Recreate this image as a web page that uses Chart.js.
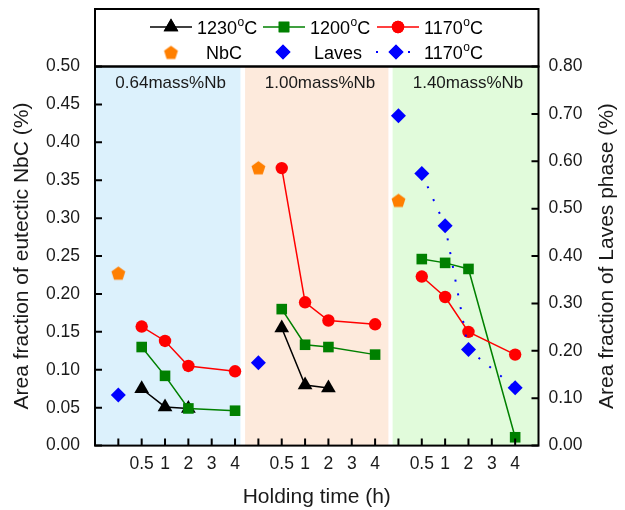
<!DOCTYPE html>
<html>
<head>
<meta charset="utf-8">
<script src="https://cdn.jsdelivr.net/npm/chart.js@4.4.0/dist/chart.umd.min.js"></script>
<style>
  html, body { margin: 0; padding: 0; background: #fff; }
  #wrap { width: 625px; height: 510px; }
</style>
</head>
<body>
<div id="wrap"><canvas id="chart" width="625" height="510"></canvas></div>
<script>
// values
const panelNames = ['0.64mass%Nb', '1.00mass%Nb', '1.40mass%Nb'];
const timeLabels = ['', '0.5', '1', '2', '3', '4'];   // first slot = as-cast, no label

// eutectic NbC, left axis (%)
const nbcAsCast = [0.228, 0.367, 0.324];
// Laves phase, right axis (%)
const lavesAsCast = [0.107, 0.175, 0.696];

// after holding 0.5, 1, 2, 3, 4 h  (one row per alloy)
const nbc1230 = [
  [0.075, 0.051, 0.049, null, null],
  [0.155, 0.080, 0.076, null, null],
  [null, null, null, null, null]
];
const nbc1200 = [
  [0.130, 0.092, 0.049, null, 0.046],
  [0.180, 0.133, 0.130, null, 0.120],
  [0.246, 0.241, 0.233, null, 0.011]
];
const nbc1170 = [
  [0.157, 0.138, 0.105, null, 0.098],
  [0.366, 0.189, 0.165, null, 0.160],
  [0.223, 0.196, 0.150, null, 0.120]
];
const laves1170 = [
  [null, null, null, null, null],
  [null, null, null, null, null],
  [0.574, 0.464, 0.203, null, 0.122]
];

const yTicks = [0, 0.05, 0.1, 0.15, 0.2, 0.25, 0.3, 0.35, 0.4, 0.45, 0.5];
const y2Ticks = [0, 0.1, 0.2, 0.3, 0.4, 0.5, 0.6, 0.7, 0.8];

// styling
const FONT = '"Liberation Sans", Arial, sans-serif';
const colors = {
  c1230: '#000000',
  c1200: '#008000',
  c1170: '#ff0000',
  nbc: '#ff7f00',
  laves: '#0000ff',
  text: '#1a1a1a'
};
const panelBg = ['#dcf1fc', '#fdeadc', '#e1fbdb'];
const panelBands = [[0, 6.23], [6.43, 12.57], [12.75, 19]];
const panelLabelX = [3.24, 9.64, 15.98];

const SLOTS = timeLabels.length;
const slotOf = (p, i) => p * SLOTS + 1 + i;
const allSlots = [];
panelNames.forEach((_, p) => timeLabels.forEach((_, i) => allSlots.push(slotOf(p, i))));

function holdPoints(rows, p) {
  return rows[p].map((v, i) => ({ x: slotOf(p, i + 1), y: v })).filter(d => d.y !== null);
}

function makePentagon(color, r) {
  const c = document.createElement('canvas');
  const s = Math.ceil(r * 2 + 2);
  c.width = s; c.height = s;
  const g = c.getContext('2d');
  g.fillStyle = color;
  g.beginPath();
  for (let k = 0; k < 5; k++) {
    const a = -Math.PI / 2 + k * 2 * Math.PI / 5;
    g.lineTo(s / 2 + r * Math.cos(a), s / 2 + 1 + r * Math.sin(a));
  }
  g.closePath();
  g.fill();
  return c;
}
const pentagon = makePentagon(colors.nbc, 7.3);

function pointSet(data, color, style, radius, axis) {
  return {
    data, yAxisID: axis || 'y',
    showLine: false,
    pointStyle: style, pointRadius: radius, pointHoverRadius: radius,
    pointBackgroundColor: color, pointBorderColor: color, pointBorderWidth: 0,
    clip: false
  };
}
function lineSet(data, color, style, radius) {
  return {
    data, yAxisID: 'y',
    borderColor: color, borderWidth: 1.5, tension: 0,
    pointStyle: style, pointRadius: radius, pointHoverRadius: radius,
    pointBackgroundColor: color, pointBorderColor: color, pointBorderWidth: 0,
    clip: false
  };
}

const datasets = [];
// as-cast markers
datasets.push(pointSet(nbcAsCast.map((v, p) => ({ x: slotOf(p, 0), y: v })), colors.nbc, pentagon, 7));
datasets.push(pointSet(lavesAsCast.map((v, p) => ({ x: slotOf(p, 0), y: v })), colors.laves, 'rectRot', 7.5, 'y2'));
// Laves after 1170 holding, dotted
panelNames.forEach((_, p) => {
  const pts = holdPoints(laves1170, p);
  if (!pts.length) return;
  datasets.push({
    data: pts, yAxisID: 'y2',
    borderColor: colors.laves, borderWidth: 2, borderDash: [2, 12], tension: 0,
    pointStyle: 'rectRot', pointRadius: 7.5, pointHoverRadius: 7.5,
    pointBackgroundColor: colors.laves, pointBorderColor: colors.laves, pointBorderWidth: 0,
    clip: false
  });
});
[[nbc1170, colors.c1170, 'circle', 6.2],
 [nbc1200, colors.c1200, 'rect', 7.5],
 [nbc1230, colors.c1230, 'triangle', 8.5]].forEach(([rows, color, style, r]) => {
  panelNames.forEach((_, p) => {
    const pts = holdPoints(rows, p);
    if (pts.length) datasets.push(lineSet(pts, color, style, r));
  });
});

function drawTemp(ctx, x, y, num) {
  ctx.font = '18px ' + FONT;
  ctx.textAlign = 'left';
  ctx.textBaseline = 'alphabetic';
  ctx.fillText(num, x, y);
  let w = ctx.measureText(num).width;
  ctx.font = '12px ' + FONT;
  ctx.fillText('o', x + w + 0.5, y - 7.5);
  w += ctx.measureText('o').width + 0.5;
  ctx.font = '18px ' + FONT;
  ctx.fillText('C', x + w, y);
}

const framePlugin = {
  id: 'frame',
  beforeDatasetsDraw(chart) {
    const { ctx, chartArea: a, scales: { x } } = chart;
    ctx.save();
    panelBands.forEach((b, i) => {
      const x0 = x.getPixelForValue(b[0]), x1 = x.getPixelForValue(b[1]);
      ctx.fillStyle = panelBg[i];
      ctx.fillRect(x0, a.top, x1 - x0, a.bottom - a.top);
    });
    ctx.fillStyle = colors.text;
    ctx.font = '17px ' + FONT;
    ctx.textAlign = 'center';
    ctx.textBaseline = 'middle';
    panelNames.forEach((n, i) => ctx.fillText(n, x.getPixelForValue(panelLabelX[i]), a.top + 17));
    ctx.restore();
  },
  afterDatasetsDraw(chart) {
    const { ctx, chartArea: a, scales: { x, y, y2 } } = chart;
    ctx.save();
    ctx.strokeStyle = '#000';
    ctx.lineWidth = 2;
    ctx.beginPath();
    x.ticks.forEach(t => { const px = x.getPixelForValue(t.value); ctx.moveTo(px, a.bottom); ctx.lineTo(px, a.bottom - 7); });
    y.ticks.forEach(t => { const py = y.getPixelForValue(t.value); ctx.moveTo(a.left, py); ctx.lineTo(a.left + 7, py); });
    y2.ticks.forEach(t => { const py = y2.getPixelForValue(t.value); ctx.moveTo(a.right, py); ctx.lineTo(a.right - 7, py); });
    ctx.stroke();
    ctx.strokeRect(a.left, a.top, a.right - a.left, a.bottom - a.top);
    ctx.restore();
  },
  afterDraw(chart) {
    const { ctx, chartArea: a } = chart;
    ctx.save();
    // legend box
    ctx.strokeStyle = '#000';
    ctx.lineWidth = 2;
    ctx.strokeRect(a.left, 9, a.right - a.left, a.top - 9);

    ctx.fillStyle = '#000';
    const r1 = 27, r2 = 52;
    const items = [
      { x0: 150, x1: 192, mx: 171, color: colors.c1230, style: 'triangle', r: 8.5, tx: 197, num: '1230' },
      { x0: 263, x1: 305, mx: 284, color: colors.c1200, style: 'rect', r: 7.5, tx: 310, num: '1200' },
      { x0: 377, x1: 419, mx: 398, color: colors.c1170, style: 'circle', r: 6.2, tx: 424, num: '1170' }
    ];
    items.forEach(it => {
      ctx.strokeStyle = it.color;
      ctx.lineWidth = 1.5;
      ctx.beginPath(); ctx.moveTo(it.x0, r1); ctx.lineTo(it.x1, r1); ctx.stroke();
      ctx.fillStyle = it.color;
      Chart.helpers.drawPoint(ctx, { pointStyle: it.style, radius: it.r, borderWidth: 0 }, it.mx, r1);
      ctx.fill();
      ctx.fillStyle = '#000';
      drawTemp(ctx, it.tx, r1 + 6.5, it.num);
    });
    // row 2
    ctx.drawImage(pentagon, 171 - pentagon.width / 2, r2 - pentagon.height / 2);
    ctx.fillStyle = '#000';
    ctx.font = '18px ' + FONT;
    ctx.textBaseline = 'alphabetic';
    ctx.fillText('NbC', 206, r2 + 6.5);
    ctx.fillStyle = colors.laves;
    Chart.helpers.drawPoint(ctx, { pointStyle: 'rectRot', radius: 7.5, borderWidth: 0 }, 283, r2);
    ctx.fill();
    ctx.fillStyle = '#000';
    ctx.fillText('Laves', 314, r2 + 6.5);
    ctx.strokeStyle = colors.laves;
    ctx.lineWidth = 2;
    ctx.setLineDash([2, 14]);
    ctx.beginPath(); ctx.moveTo(376, r2); ctx.lineTo(419, r2); ctx.stroke();
    ctx.setLineDash([]);
    ctx.fillStyle = colors.laves;
    Chart.helpers.drawPoint(ctx, { pointStyle: 'rectRot', radius: 7.5, borderWidth: 0 }, 396, r2);
    ctx.fill();
    ctx.fillStyle = '#000';
    drawTemp(ctx, 424, r2 + 6.5, '1170');

    // axis titles
    const cy = (a.top + a.bottom) / 2;
    ctx.fillStyle = colors.text;
    ctx.font = '21px ' + FONT;
    ctx.textAlign = 'center';
    ctx.textBaseline = 'middle';
    ctx.fillText('Holding time (h)', (a.left + a.right) / 2, 497);
    ctx.translate(22, cy); ctx.rotate(-Math.PI / 2);
    ctx.fillText('Area fraction of eutectic NbC (%)', 0, 0);
    ctx.setTransform(1, 0, 0, 1, 0, 0);
    ctx.translate(607, cy); ctx.rotate(-Math.PI / 2);
    ctx.fillText('Area fraction of Laves phase (%)', 0, 0);
    ctx.restore();
  }
};

const tickFont = { family: FONT, size: 17.5 };

new Chart(document.getElementById('chart'), {
  type: 'line',
  data: { datasets },
  options: {
    responsive: false,
    animation: false,
    layout: { padding: { top: 66.5, left: 0, right: 0, bottom: 0 } },
    plugins: { legend: { display: false }, tooltip: { enabled: false } },
    scales: {
      x: {
        type: 'linear', min: 0, max: 19,
        afterBuildTicks: s => { s.ticks = allSlots.map(v => ({ value: v })); },
        afterFit: s => { s.height = 64.4; },
        grid: { display: false, drawTicks: false },
        border: { display: false },
        ticks: {
          autoSkip: false, maxRotation: 0, padding: 8, color: colors.text, font: tickFont,
          callback: v => timeLabels[(v - 1) % SLOTS]
        }
      },
      y: {
        position: 'left', min: 0, max: 0.5,
        afterBuildTicks: s => { s.ticks = yTicks.map(v => ({ value: v })); },
        afterFit: s => { s.width = 95; },
        grid: { display: false, drawTicks: false },
        border: { display: false },
        ticks: { padding: 15, color: colors.text, font: tickFont, callback: v => v.toFixed(2) }
      },
      y2: {
        position: 'right', min: 0, max: 0.8,
        afterBuildTicks: s => { s.ticks = y2Ticks.map(v => ({ value: v })); },
        afterFit: s => { s.width = 86.5; },
        grid: { display: false, drawTicks: false },
        border: { display: false },
        ticks: { padding: 10, color: colors.text, font: tickFont, callback: v => v.toFixed(2) }
      }
    }
  },
  plugins: [framePlugin]
});
</script>
</body>
</html>
